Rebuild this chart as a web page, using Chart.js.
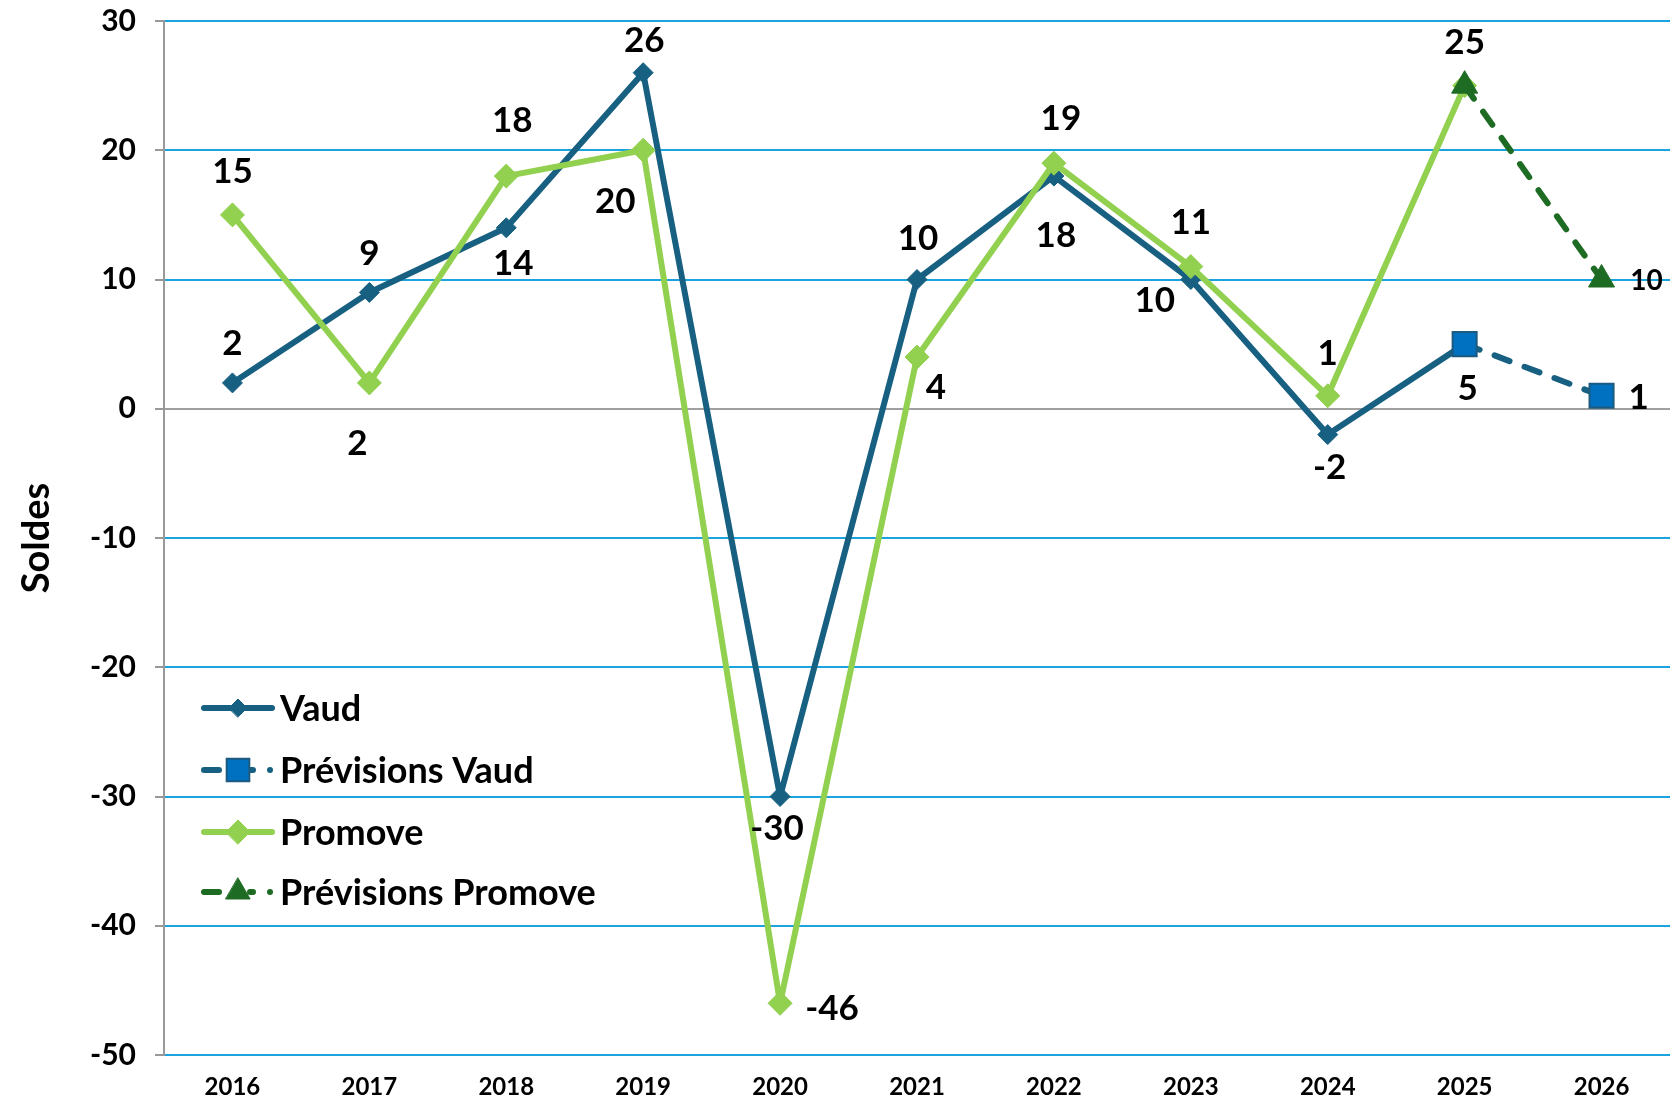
<!DOCTYPE html>
<html><head><meta charset="utf-8">
<script src="https://cdn.jsdelivr.net/npm/chart.js@4.4.1/dist/chart.umd.min.js"></script>
<style>html,body{margin:0;padding:0;background:#fff;overflow:hidden}canvas{display:block}</style>
</head><body><canvas id="c" width="1671" height="1102" style="width:1671px;height:1102px"></canvas>
<script>
// ---- data ----
const years = ['2016','2017','2018','2019','2020','2021','2022','2023','2024','2025','2026'];
const vaud = [2, 9, 14, 26, -30, 10, 18, 10, -2, 5, null];
const previsionsVaud = [null, null, null, null, null, null, null, null, null, 5, 1];
const promove = [15, 2, 18, 20, -46, 4, 19, 11, 1, 25, null];
const previsionsPromove = [null, null, null, null, null, null, null, null, null, 25, 10];
const yTickValues = [30, 20, 10, 0, -10, -20, -30, -40, -50];
const yTitle = 'Soldes';
const seriesNames = ['Vaud', 'Prévisions Vaud', 'Promove', 'Prévisions Promove'];

// ---- label placement (dx, dy from the point, optional font size) ----
const vaudLabelPos = [[0,-41],[0,-40],[7,35],[1,-33],[-3,31],[1,-42],[2,58],[-36,20],[2,32],null,null];
const prevVaudLabelPos = [null,null,null,null,null,null,null,null,null,[3,43],[37,1]];
const promoveLabelPos = [[0,-44],[-12,59],[6,-57],[-28,50],[52,4],[19,29],[7,-46],[0,-45],[0,-43],[0,-44],null];
const prevPromoveLabelPos = [null,null,null,null,null,null,null,null,null,null,[45,0,28]];

const FONT = 'Lato, "Open Sans", sans-serif';
const C_VAUD = '#186082', C_PROM = '#92d050', C_PVAUD = '#0070c0', C_PPROM = '#1e6b23';
const C_GRID = '#1aa3dc', C_AXIS = '#999999';

const valueLabels = {
  id: 'valueLabels',
  afterDatasetsDraw(chart) {
    const ctx = chart.ctx;
    chart.data.datasets.forEach((ds, di) => {
      const meta = chart.getDatasetMeta(di);
      const offs = ds.labelPos; if (!offs) return;
      meta.data.forEach((pt, i) => {
        const o = offs[i]; const v = ds.data[i];
        if (!o || v == null) return;
        const size = o[2] || 35;
        ctx.save();
        ctx.font = `bold ${size}px ${FONT}`;
        ctx.fillStyle = '#000';
        ctx.textAlign = 'center';
        ctx.textBaseline = 'alphabetic';
        ctx.fillText(String(v), pt.x + o[0], pt.y + o[1] + 0.36 * size);
        ctx.restore();
      });
    });
  }
};

const insideLegend = {
  id: 'insideLegend',
  afterDraw(chart) {
    const ctx = chart.ctx, ca = chart.chartArea;
    const x0 = ca.left + 37, x1 = ca.left + 111, mx = ca.left + 74, tx = ca.left + 116;
    const rowY = [ca.top + 687, ca.top + 749, ca.top + 811, ca.top + 871];
    const markerR = [9, 16, 12, 14];
    chart.data.datasets.forEach((ds, i) => {
      const y = rowY[i];
      ctx.save();
      ctx.strokeStyle = ds.borderColor;
      ctx.lineWidth = 6;
      ctx.lineCap = 'round';
      ctx.beginPath();
      if (ds.borderDash && ds.borderDash.length) ctx.setLineDash([15, 31, 3, 17, 0.01, 100]);
      ctx.moveTo(x0 + 3, y); ctx.lineTo(x1 - 3, y);
      ctx.stroke();
      ctx.setLineDash([]);
      ctx.fillStyle = ds.pointBackgroundColor;
      ctx.strokeStyle = ds.pointBorderColor;
      ctx.lineWidth = ds.pointBorderWidth;
      Chart.helpers.drawPoint(ctx, {pointStyle: ds.pointStyle, radius: markerR[i], borderWidth: ds.pointBorderWidth, rotation: 0}, mx, y);
      ctx.fillStyle = '#000';
      ctx.font = `bold 36px ${FONT}`;
      ctx.textAlign = 'left';
      ctx.textBaseline = 'alphabetic';
      ctx.fillText(ds.label, tx, y + 0.36 * 36);
      ctx.restore();
    });
  }
};

new Chart(document.getElementById('c'), {
  type: 'line',
  data: {
    labels: years,
    datasets: [
      {label: seriesNames[0], data: vaud, order: 4, labelPos: vaudLabelPos,
       borderColor: C_VAUD, borderWidth: 6, borderJoinStyle: 'round', borderCapStyle: 'round',
       pointStyle: 'rectRot', pointRadius: 10, pointBackgroundColor: C_VAUD, pointBorderColor: C_VAUD, pointBorderWidth: 1, tension: 0},
      {label: seriesNames[1], data: previsionsVaud, order: 3, labelPos: prevVaudLabelPos,
       borderColor: C_VAUD, borderWidth: 6, borderDash: [16, 16], borderCapStyle: 'round', borderJoinStyle: 'round',
       pointStyle: 'rect', pointRadius: 17, pointBackgroundColor: C_PVAUD, pointBorderColor: '#1d5a80', pointBorderWidth: 2, tension: 0},
      {label: seriesNames[2], data: promove, order: 2, labelPos: promoveLabelPos,
       borderColor: C_PROM, borderWidth: 6, borderJoinStyle: 'round', borderCapStyle: 'round',
       pointStyle: 'rectRot', pointRadius: 12, pointBackgroundColor: C_PROM, pointBorderColor: C_PROM, pointBorderWidth: 1, tension: 0},
      {label: seriesNames[3], data: previsionsPromove, order: 1, labelPos: prevPromoveLabelPos,
       borderColor: C_PPROM, borderWidth: 6, borderDash: [16, 16], borderCapStyle: 'round', borderJoinStyle: 'round',
       pointStyle: 'triangle', pointRadius: 15, pointBackgroundColor: C_PPROM, pointBorderColor: C_PPROM, pointBorderWidth: 1, tension: 0}
    ]
  },
  options: {
    responsive: false, animation: false, devicePixelRatio: 1,
    layout: {autoPadding: false, padding: {top: 21, right: 1, bottom: 0, left: 0}},
    plugins: {legend: {display: false}, tooltip: {enabled: false}},
    scales: {
      x: {
        offset: true,
        grid: {display: false, drawTicks: false},
        border: {display: false},
        ticks: {color: '#000', font: {family: FONT, size: 24, weight: 'bold'}, padding: 18, maxRotation: 0, autoSkip: false},
        afterFit(s) { s.height = 47; s.paddingLeft = 0; s.paddingRight = 0; }
      },
      y: {
        min: -50, max: 30,
        afterBuildTicks(s) { s.ticks = yTickValues.map(v => ({value: v})); },
        ticks: {color: '#000', font: {family: FONT, size: 30, weight: 'bold'}, padding: 19},
        grid: {color: c => (c.tick && c.tick.value === 0) ? '#a0a0a0' : C_GRID, lineWidth: 2, tickLength: 9, tickColor: C_AXIS, drawTicks: true},
        border: {display: true, color: C_AXIS, width: 2},
        title: {display: true, text: yTitle, color: '#000', font: {family: FONT, size: 38, weight: 'bold'}, padding: {top: 14, bottom: 0}},
        afterFit(s) { s.width = 164; s.paddingTop = 0; s.paddingBottom = 0; }
      }
    }
  },
  plugins: [valueLabels, insideLegend]
});
</script></body></html>
